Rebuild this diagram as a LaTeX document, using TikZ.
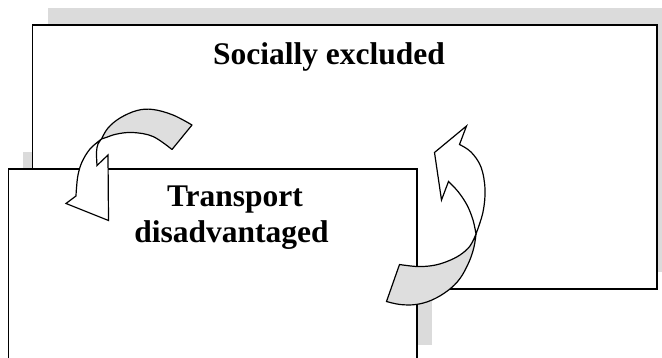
\documentclass[tikz,border=0pt]{standalone}
\usepackage{fontspec}
\setmainfont{Liberation Serif}
\definecolor{shadowgray}{gray}{0.86}
\definecolor{ribbongray}{gray}{0.87}
\tikzset{
  shadowbox/.style={fill=shadowgray, draw=none},
  mainbox/.style={fill=white, draw=black, line width=1.6pt},
  boxtext/.style={font=\bfseries\fontsize{31.5}{36}\selectfont, anchor=base, inner sep=0pt},
  ribbonback/.style={fill=ribbongray, draw=black, line width=1.2pt, line join=round},
  ribbonfront/.style={fill=white, draw=black, line width=1.2pt, line join=miter},
}
\begin{document}
\begin{tikzpicture}[x=1pt,y=-1pt]
\useasboundingbox (0,0) rectangle (662,358);
% shadows
\fill[shadowgray] (23,152.5) rectangle (431.5,345.5);
\fill[shadowgray] (47.5,8) rectangle (672,272.5);
% boxes
\node[mainbox, minimum width=624.5pt, minimum height=264.5pt, inner sep=0pt, anchor=north west] (excl) at (31.5,24) {};
\node[mainbox, minimum width=408.5pt, minimum height=193.5pt, inner sep=0pt, anchor=north west] (trans) at (7.5,168.5) {};
% texts
\node[boxtext] (t1) at (329,65) {Socially excluded};
\node[boxtext] (t2) at (235,207) {Transport};
\node[boxtext] (t3) at (231.5,243) {disadvantaged};
% left arrow: back (gray) part
\coordinate (P) at (101.5,139);
\draw[ribbonback] (192,125) -- plot[smooth, tension=0.6] coordinates {(192,125) (173,115) (153,109.5) (137,110.5) (120,118) (108,128) (101.5,139)}
  -- plot[smooth, tension=0.6] coordinates {(101.5,139) (106,137.5) (117,134) (133,132.5) (153,136.5) (172,149.5)} -- cycle;
% left arrow: front (white) part
\draw[ribbonfront] (P) -- plot[smooth, tension=0.6] coordinates {(101.5,139) (90,149) (82,162) (78,175) (76.5,188) (76,196)}
  -- (66,203.5) -- (108.5,220.5) -- (108,155) -- (97,165.5)
  -- plot[smooth, tension=0.6] coordinates {(97,165.5) (96.5,152) (98,144) (101.5,139)} -- cycle;
% right arrow: back (gray) part
\coordinate (Q) at (476,234);
\draw[ribbonback] (Q) -- plot[smooth, tension=0.6] coordinates {(476,234) (470,246) (460,255) (447,261.5) (433,265.5) (417,266.5) (399.5,264.5)}
  -- (386.5,301.5)
  -- plot[smooth, tension=0.6] coordinates {(386.5,301.5) (400,304.5) (416,304.5) (432,300) (448,290.5) (460,278.5) (469,262) (474,247) (476,234)} -- cycle;
% right arrow: front (white) part
\draw[ribbonfront] (Q) -- plot[smooth, tension=0.6] coordinates {(476,234) (483,212) (485,189) (481,167) (471,152) (459.5,144.5)}
  -- (466.5,126) -- (434.5,152.5) -- (441.5,200) -- (448.5,181.5)
  -- plot[smooth, tension=0.6] coordinates {(448.5,181.5) (458,191.5) (467,205) (473,220) (476,234)} -- cycle;
\end{tikzpicture}
\end{document}
